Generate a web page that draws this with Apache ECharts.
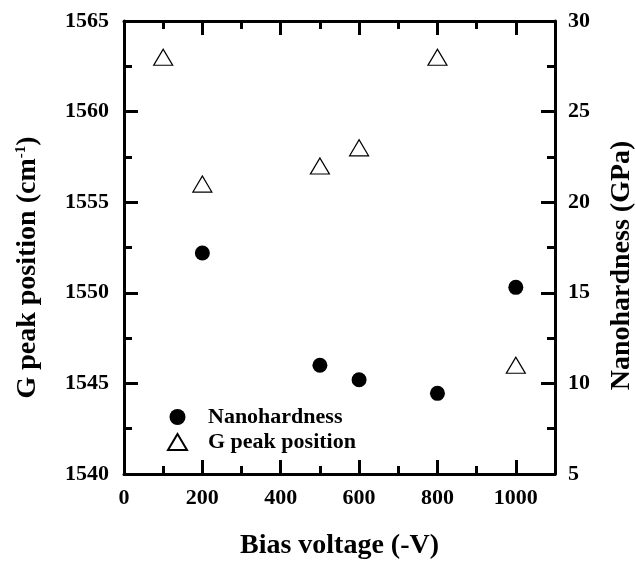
<!DOCTYPE html>
<html>
<head>
<meta charset="utf-8">
<script src="https://cdn.jsdelivr.net/npm/echarts@6/dist/echarts.min.js"></script>
<style>
  html, body { margin: 0; padding: 0; background: #fff; }
  #chart { width: 636px; height: 566px; }
</style>
</head>
<body>
<div id="chart"></div>
<script>
// bias voltage (-V)
const hardVoltage = [200, 500, 600, 800, 1000];
const nanohardness = [17.2, 11.0, 10.2, 9.45, 15.3];   // GPa, right axis
const peakVoltage = [100, 200, 500, 600, 800, 1000];
const gPeak = [1563, 1556, 1557, 1558, 1563, 1546];    // cm-1, left axis

const font = 'Liberation Serif';
const ink = '#000';

const chart = echarts.init(document.getElementById('chart'));

const tickStyle = {
  axisLine: { show: true, onZero: false, lineStyle: { color: ink, width: 3 } },
  axisTick: { show: true, inside: true, length: 14, lineStyle: { color: ink, width: 3 } },
  minorTick: { show: true, splitNumber: 2, length: 8, lineStyle: { color: ink, width: 3 } },
  splitLine: { show: false }
};

const labelStyle = { fontFamily: font, fontWeight: 'bold', fontSize: 22, color: ink };
const titleStyle = { fontFamily: font, fontWeight: 'bold', fontSize: 28, color: ink };

const xBase = {
  type: 'value', min: 0, max: 1100, interval: 200,
  ...tickStyle
};

const option = {
  animation: false,
  grid: { left: 124, right: 81, top: 21, bottom: 92, outerBoundsMode: 'none' },
  legend: {
    orient: 'vertical',
    left: 162, top: 401,
    itemWidth: 19, itemHeight: 16, itemGap: 3,
    textStyle: { fontFamily: font, fontWeight: 'bold', fontSize: 22, color: ink, padding: [0, 0, 0, 16] },
    data: [
      { name: 'Nanohardness', icon: 'circle' },
      { name: 'G peak position', icon: 'triangle' }
    ]
  },
  xAxis: [
    {
      ...xBase, position: 'bottom',
      name: 'Bias voltage (-V)', nameLocation: 'middle', nameGap: 58,
      nameTextStyle: titleStyle,
      axisLabel: { ...labelStyle, margin: 13, formatter: v => (v > 1000 ? '' : String(v)) }
    },
    { ...xBase, position: 'top', axisLabel: { show: false } }
  ],
  yAxis: [
    {
      type: 'value', min: 1540, max: 1565, interval: 5, position: 'left',
      ...tickStyle,
      name: '{t|G peak position (cm}{s|-1}{t|)}', nameLocation: 'middle', nameGap: 82,
      nameTextStyle: {
        padding: [0, 40, 0, 0],
        rich: {
          t: titleStyle,
          s: { fontFamily: font, fontWeight: 'bold', fontSize: 15, color: ink, verticalAlign: 'top', padding: [0, 0, 12, 0] }
        }
      },
      axisLabel: { ...labelStyle, margin: 15, formatter: v => String(v) }
    },
    {
      type: 'value', min: 5, max: 30, interval: 5, position: 'right',
      ...tickStyle,
      name: 'Nanohardness (GPa)', nameLocation: 'middle', nameGap: 53,
      nameTextStyle: { ...titleStyle, padding: [0, 36, 0, 0] },
      axisLabel: { ...labelStyle, margin: 13, formatter: v => String(v) }
    }
  ],
  series: [
    {
      name: 'Nanohardness', type: 'scatter', xAxisIndex: 0, yAxisIndex: 1,
      symbol: 'circle', symbolSize: 15,
      itemStyle: { color: '#000', opacity: 1 },
      data: hardVoltage.map((x, i) => [x, nanohardness[i]])
    },
    {
      name: 'G peak position', type: 'scatter', xAxisIndex: 0, yAxisIndex: 0,
      symbol: 'triangle', symbolSize: [19, 16],
      itemStyle: { color: '#fff', borderColor: '#000', borderWidth: 1.2, opacity: 1 },
      data: peakVoltage.map((x, i) => [x, gPeak[i]])
    }
  ]
};

chart.setOption(option);
</script>
</body>
</html>
